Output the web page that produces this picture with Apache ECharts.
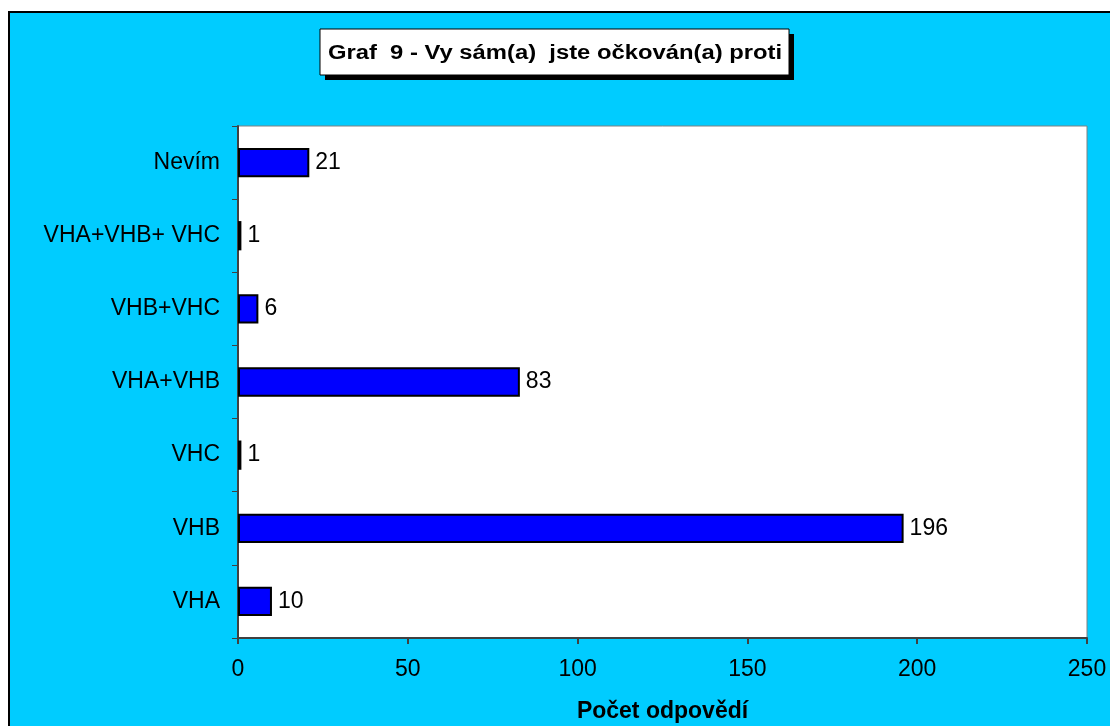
<!DOCTYPE html>
<html>
<head>
<meta charset="utf-8">
<script src="https://cdn.jsdelivr.net/npm/echarts@6/dist/echarts.min.js"></script>
<style>
  html, body { margin: 0; padding: 0; background: #ffffff; }
  #chart { width: 1110px; height: 726px; }
</style>
</head>
<body>
<div id="chart"></div>
<script>
// Vaccination answers, listed bottom to top
const categories = ['VHA', 'VHB', 'VHC', 'VHA+VHB', 'VHB+VHC', 'VHA+VHB+ VHC', 'Nevím'];
const counts = [10, 196, 1, 83, 6, 1, 21];
const xTicks = { min: 0, max: 250, step: 50 };
const titleText = 'Graf  9 - Vy sám(a)  jste očkován(a) proti';
const xAxisTitle = 'Počet odpovědí';

const font = '"Liberation Sans", Arial, sans-serif';
const chart = echarts.init(document.getElementById('chart'), null, { renderer: 'canvas' });

chart.setOption({
  backgroundColor: '#ffffff',
  animation: false,
  textStyle: { fontFamily: font },
  graphic: [
    // chart area frame
    { type: 'rect', z: -10, shape: { x: 9, y: 12, width: 1120, height: 730 },
      style: { fill: '#00CCFF', stroke: '#000000', lineWidth: 2 } },
    // title box with drop shadow
    { type: 'rect', z: 10, shape: { x: 325, y: 34, width: 469, height: 46 },
      style: { fill: '#000000' } },
    { type: 'rect', z: 11, shape: { x: 320, y: 29, width: 469, height: 46 },
      style: { fill: '#ffffff', stroke: '#000000', lineWidth: 1 } },
    { type: 'text', z: 12, x: 555, y: 53, scaleX: 1.19, scaleY: 1,
      style: { text: titleText, fill: '#000000', font: 'bold 20px ' + font,
               align: 'center', verticalAlign: 'middle' } }
  ],
  grid: {
    left: 238, right: 23, top: 126, bottom: 88,
    outerBoundsMode: 'none', containLabel: false,
    show: true, backgroundColor: '#ffffff', borderColor: '#808080', borderWidth: 1
  },
  xAxis: {
    type: 'value', min: xTicks.min, max: xTicks.max, interval: xTicks.step,
    name: xAxisTitle, nameLocation: 'middle', nameGap: 62,
    nameTextStyle: { fontSize: 23, fontWeight: 'bold', color: '#000000', fontFamily: font },
    axisLine: { show: true, lineStyle: { color: '#404040', width: 2 } },
    axisTick: { show: true, length: 6, lineStyle: { color: '#404040', width: 2 } },
    axisLabel: { fontSize: 23, color: '#000000', margin: 20, fontFamily: font },
    splitLine: { show: false }
  },
  yAxis: {
    type: 'category', data: categories,
    axisLine: { show: true, lineStyle: { color: '#404040', width: 2 } },
    axisTick: { show: true, length: 6, alignWithLabel: false, lineStyle: { color: '#404040', width: 1 } },
    axisLabel: { fontSize: 23, color: '#000000', margin: 18, fontFamily: font },
    splitLine: { show: false }
  },
  series: [{
    type: 'bar',
    data: counts,
    barWidth: '40%',
    itemStyle: { color: '#0000FF', borderColor: '#000000', borderWidth: 2 },
    label: { show: true, position: 'right', distance: 6, fontSize: 23, color: '#000000', fontFamily: font }
  }]
});
</script>
</body>
</html>
